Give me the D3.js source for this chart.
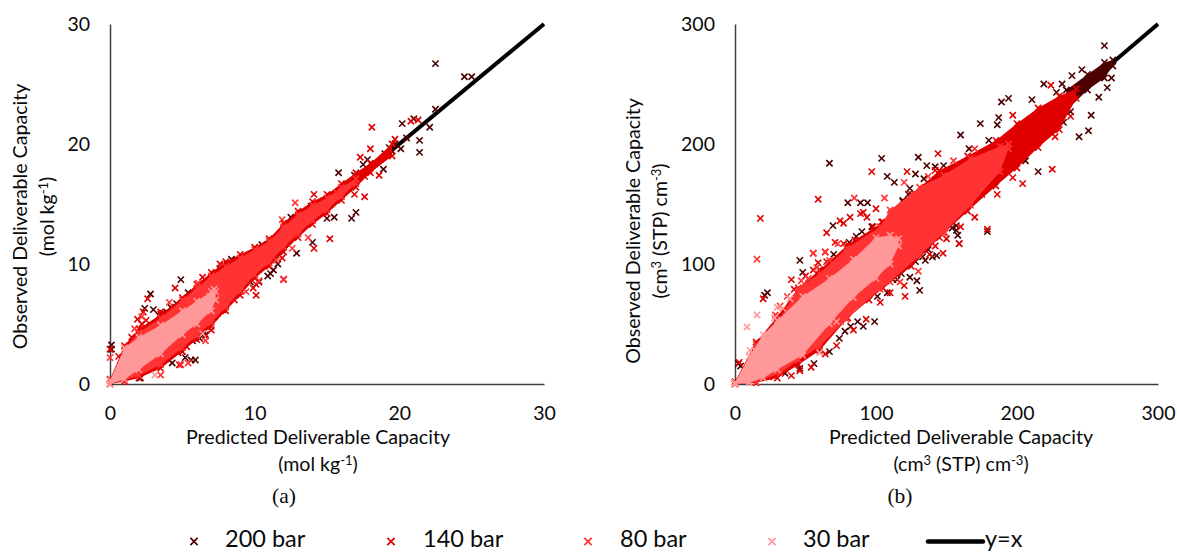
<!DOCTYPE html>
<html>
<head>
<meta charset="utf-8">
<script src="https://cdnjs.cloudflare.com/ajax/libs/d3/7.8.5/d3.min.js"></script>
<style>
  html, body { margin: 0; background: #fff; }
  text { font-family: Lato, "Open Sans", sans-serif; fill: #0a0a0a; }
</style>
</head>
<body>
<div id="wrapper"></div>
<script>
// values. the clouds are far too dense to read point by point,
// so the merged core of each series is kept as an outline: [x, low, high]
const ticksA = [0, 10, 20, 30];
const ticksB = [0, 100, 200, 300];
const seriesNames = ["200 bar", "140 bar", "80 bar", "30 bar"];
const seriesColors = ["#4d0000", "#e00000", "#ff3333", "#ff9999"];

const coreA140 = [[0,0,0.4],[1,0.2,3.2],[2,0.5,4.6],[3.5,1.3,5.8],[5,2.7,7.2],[6,3.7,8.3],[7,4.8,9.3],[8,6.1,10.2],[9,7.4,10.8],[10,8.8,11.4],[11,9.8,12.1],[12,11,13.4],[13,12.2,14.4],[14,13.3,15.2],[15,14.2,15.8],[16,15.3,16.7],[17,16.4,17.6],[18,17.6,18.4],[19.5,19,20]];
const coreA80 = [[0,0,0.3],[1,0.3,3],[2,0.7,4.3],[3.5,1.6,5.5],[5,3,7],[6,4,8],[7,5.1,9],[8,6.4,9.8],[9,7.7,10.5],[10,9.1,11.2],[11,10.1,11.9],[12,11.4,13.1],[13,12.5,14.1],[14,13.6,14.9],[15,14.5,15.5],[16,15.6,16.4],[17,16.7,17.1]];
const coreA30 = [[0,0,0.3],[1,0.4,3],[2,1.2,3.9],[3.5,2.5,4.9],[5,4.1,6.1],[6,5,6.9],[7,6.1,7.7],[7.3,7,7.7]];

const coreB140 = [[0,0,2],[15,1,35],[30,5,56],[45,16,80],[60,28,95],[80,55,116],[105,80,135],[125,98,158],[145,122,178],[165,144,190],[185,165,203],[200,180,217],[215,197,230],[230,212,240],[242,238,246]];
const coreB80 = [[0,0,1.5],[15,1.5,33],[32,9,55],[45,20,80],[60,31,92],[79,54,113],[103,79,131],[110,85,145],[131,107,164],[148,126,174],[167,149,188],[188,177,198],[194,196,200]];
const coreB30 = [[0,0,1],[10,1,23],[20,5,41],[30,12,53],[48,24,73],[67,50,88],[84,72,104],[100,88,122],[110,100,124],[116,115,121]];
const coreB200 = [[235,228,245],[250,245,258],[262,255,268],[268,265,270]];

const pointsA200 = [[22.5,26.7],[24.5,25.6],[25,25.6],[22.5,22.9],[20.2,21.7],[21,22.1],[22.1,21.4],[21.4,20.3],[21.4,19.3],[20.1,19.6],[20.5,20.5],[15.8,17.6],[17,14.3],[16.7,13.8],[18.9,17.9],[16.9,17.4],[17.8,18.7],[17.5,18.3],[19.3,19.7],[19,19.2],[19.7,20],[19.5,19.4],[14.9,14.8],[15.5,13.9],[15,13.8],[13.1,14.1],[12.5,13.9],[13.9,14.8],[12.1,13.3],[12.9,10.9],[14,11.8],[12.3,12.6],[4.9,8.7],[2.8,7.5],[0.1,3.25],[0.1,2.9],[8.4,10.4],[5.9,2],[5.6,2],[4.3,1.75],[2.1,0.5],[3,6.2],[2.4,6.3],[5.4,7.6],[6.4,4.5],[6.2,3.8],[5,2.7],[11.3,9.5],[10.9,9],[9.7,8.5],[10.5,11.6],[7.8,6.2],[8.1,10],[3.7,5.9],[4.2,6.4],[4.6,6.7],[7.6,9.6],[7.9,9.9],[8.8,10.3],[6.7,4.8],[5.7,3.6],[5.2,2.2],[4,2.1],[8.4,9.9],[8.7,9.9],[3.4,5.7],[3.9,6],[7.2,5.6],[6.6,4.1],[10.3,8.5],[11.6,10],[11.1,9.2]];
const pointsA140 = [[18.1,21.4],[18,19.6],[17.3,18.9],[18.6,17.4],[17.6,15.6],[16.9,15.8],[15.2,12.1],[14.1,11.3],[20.8,21.9],[21.3,22],[19.7,20.4],[14.1,15.8],[17.6,17.3],[17.9,17.8],[11.9,10.5],[12,8.7],[4.5,8],[2.6,7.1],[0,2.9],[0.6,2.3],[2.3,6],[2.5,5.3],[2.2,5],[1.5,3.9],[4.8,1.6],[10.1,7.4],[10.1,8.3],[9.9,8],[3.5,6],[1.9,5.4],[6.6,4],[3.4,1.6],[7.6,10],[6.4,8.9],[4.7,2.6],[5.3,3.1],[8.6,7],[7,4.5]];
const pointsA80 = [[12.8,15.1],[4.1,6.8],[0,2.2],[12,8.75],[11.5,10.3],[4.9,1.6],[5.4,1.75],[3.5,0.75],[2.2,5.6],[1.7,4.6],[13.7,12.2],[12.6,11.3],[11.9,13.7],[6.1,8.4],[6.6,3.6],[9.4,7.7],[10.3,8.6],[15.7,15.9]];
const pointsA30 = [[3.1,0.75],[6.4,4.2],[7.2,7.9],[6.9,7.3]];

const pointsB200 = [[67,184],[104,188],[130,189],[108,173],[113,168],[128,175],[89,151],[94,151],[80,151],[69.5,132],[86,123],[90,127],[124,163],[119,153],[158,124],[129,86],[131,78],[135,103],[140,106],[160,207.5],[174,217],[186,216],[187,222],[189,235],[194,238],[210.6,237],[219,250],[232,250],[239,257],[246,262],[262,282],[252.6,224],[250.7,211],[244,206],[258,239],[264,247],[267,255],[215,177],[179,127],[159,117],[2.4,17],[4,15],[23,76],[21,74],[46,103],[48,93],[56,17],[67,27],[99,52],[35.5,9],[46,13],[91,48],[87,52],[74,38],[78,44],[112,87],[123,100],[118,92],[150,143],[157,132],[145,131],[153,138],[206,186],[208,200],[225,212],[238,227],[205,216],[228,243],[199,207],[180,203],[166,196],[60,95],[70,108],[120,140],[134,171],[136,182],[82,48],[133,106],[128,102],[137,112],[124,89],[115,87],[108,76],[101,73],[157,128],[154,130],[143,107],[90,116],[86,111],[81,118],[97,131],[119,152],[123,158],[142,181],[148,182],[214,207],[219,227],[233,218],[200,192]];
const pointsB140 = [[18,138],[97,177],[122,177],[59,154],[142,178],[144,192],[65,126],[74.5,136],[81.6,139],[120.6,73],[159,117],[147.5,109],[225,179],[204,167],[224,249],[197,224],[179,129],[227,206],[238,223],[20,71],[40,87],[55.5,109],[64,110],[24,6],[46,11],[3,18],[77,134],[91,143],[100,146],[85,120],[175,158],[160,131],[202,189],[112,100],[95,70],[89,142],[93.6,139],[77,117],[86.5,117],[71,118],[80,111],[98,131],[104,135],[111,142],[65,102],[59,101],[55.5,95],[50,90],[42,79],[120,82],[110,76],[103,68],[93,54],[84,45],[72,32],[64,25],[54,14],[40,7],[138,108],[150,121],[142,115],[170,139],[186,158],[197,172]];
const pointsB80 = [[15.6,104],[106,155],[55.5,109],[64,110],[84.6,155],[28.6,57.5],[32,65],[37,73],[47,86],[130,94],[117,85],[149,126],[162,147],[73,117],[67,103],[52,88],[58,97],[75,52],[88,68],[97,77],[108,87],[120,168],[137,173],[155,186],[170,196]];
const pointsB30 = [[15.6,57.5],[8.5,47.5],[10.6,28],[14,28],[30,64],[34,63],[28,55],[39,71],[60,26],[72,52]];

const width = 1177, height = 552;
const svg = d3.select("#wrapper").append("svg")
    .attr("width", width)
    .attr("height", height)
    .style("display", "block");

const symbolPath = d3.symbol(d3.symbolX, 27)();
const legendSymbolPath = d3.symbol(d3.symbolX, 36)();

function drawPanel(cfg) {
  const x = d3.scaleLinear().domain([0, cfg.ticks[3]]).range([cfg.left, cfg.right]);
  const y = d3.scaleLinear().domain([0, cfg.ticks[3]]).range([384, 24]);

  const xAxis = d3.axisBottom(x).tickValues(cfg.ticks).tickSize(0).tickPadding(22);
  const yAxis = d3.axisLeft(y).tickValues(cfg.ticks).tickSize(0).tickPadding(20);

  const gx = svg.append("g").attr("transform", "translate(0,384)").call(xAxis);
  const gy = svg.append("g").attr("transform", `translate(${cfg.left},0)`).call(yAxis);
  for (const g of [gx, gy]) {
    g.selectAll("text").style("font-size", "19.5px");
    g.select(".domain").attr("stroke", "#404040").attr("stroke-width", 1.5);
  }

  // y=x sits under the markers
  svg.append("path")
    .attr("d", d3.line().x(d => x(d)).y(d => y(d))([0, cfg.ticks[3]]))
    .attr("stroke", "#000")
    .attr("stroke-width", 4)
    .attr("fill", "none");

  const area = d3.area().x(d => x(d[0])).y0(d => y(d[1])).y1(d => y(d[2]));

  cfg.layers.forEach(layer => {
    const color = seriesColors[layer.series];
    const g = svg.append("g");
    if (layer.core) {
      g.append("path").attr("d", area(layer.core)).attr("fill", color);
      // outline rows get a marker too so the edge of the cloud is not a clean line
      const edge = layer.core.flatMap(d => [[d[0], d[1]], [d[0], d[2]]]);
      g.selectAll("path.edge")
        .data(edge)
        .enter()
        .append("path")
        .attr("class", "edge")
        .attr("d", symbolPath)
        .attr("transform", d => `translate(${x(d[0])},${y(d[1])})`)
        .attr("stroke", color)
        .attr("stroke-width", 1.6)
        .attr("fill", "none");
    }
    g.selectAll("path.pt")
      .data(layer.points)
      .enter()
      .append("path")
      .attr("class", "pt")
      .attr("d", symbolPath)
      .attr("transform", d => `translate(${x(d[0])},${y(d[1])})`)
      .attr("stroke", color)
      .attr("stroke-width", 1.6)
      .attr("fill", "none");
  });

  addTitle(cfg.xTitleX, 444, 0, "Predicted Deliverable Capacity", cfg.unit);
  addTitle(cfg.yTitleY, cfg.yTitleX, -90, "Observed Deliverable Capacity", cfg.unit);

  svg.append("text")
    .attr("x", cfg.tagX)
    .attr("y", 503)
    .attr("text-anchor", "middle")
    .style("font-family", "'Liberation Serif', serif")
    .style("font-size", "21.5px")
    .text(cfg.tag);
}

// two line axis title, second line has the unit with its superscripts
function addTitle(a, b, rotate, label, unit) {
  const g = svg.append("g")
    .attr("transform", rotate ? `translate(${b},${a}) rotate(${rotate})` : `translate(${a},${b})`)
    .attr("text-anchor", "middle")
    .style("font-size", "19.6px");
  g.append("text").text(label);
  const t = g.append("text").attr("y", 26.5);
  unit.forEach(part => {
    const s = t.append("tspan").text(part[0]);
    if (part[1]) s.attr("dy", -6).style("font-size", "13px");
    else if (part[2]) s.attr("dy", 6);
  });
}

drawPanel({
  ticks: ticksA, left: 110, right: 544, xTitleX: 318, yTitleY: 216.5, yTitleX: 27,
  tag: "(a)", tagX: 284,
  unit: [["(mol kg"], ["-1", true], [")", false, true]],
  layers: [
    { series: 0, points: pointsA200 },
    { series: 1, points: pointsA140, core: coreA140 },
    { series: 2, points: pointsA80, core: coreA80 },
    { series: 3, points: pointsA30, core: coreA30 }
  ]
});

drawPanel({
  ticks: ticksB, left: 735, right: 1158, xTitleX: 961, yTitleY: 231, yTitleX: 640,
  tag: "(b)", tagX: 900,
  unit: [["(cm"], ["3", true], [" (STP) cm", false, true], ["-3", true], [")", false, true]],
  layers: [
    { series: 0, points: pointsB200, core: coreB200 },
    { series: 1, points: pointsB140, core: coreB140 },
    { series: 2, points: pointsB80, core: coreB80 },
    { series: 3, points: pointsB30, core: coreB30 }
  ]
});

// legend
const legendMarkerX = [194, 391, 588, 772];
const legendTextX = [225, 423, 620, 803];
seriesNames.forEach((name, i) => {
  svg.append("path")
    .attr("d", legendSymbolPath)
    .attr("transform", `translate(${legendMarkerX[i]},541.5)`)
    .attr("stroke", seriesColors[i])
    .attr("stroke-width", 1.7)
    .attr("fill", "none");
  svg.append("text")
    .attr("x", legendTextX[i])
    .attr("y", 546.5)
    .style("font-size", "23.5px")
    .text(name);
});
svg.append("line")
  .attr("x1", 928).attr("x2", 983)
  .attr("y1", 541.5).attr("y2", 541.5)
  .attr("stroke", "#000")
  .attr("stroke-width", 4.5)
  .attr("stroke-linecap", "round");
svg.append("text")
  .attr("x", 985)
  .attr("y", 546.5)
  .style("font-size", "23.5px")
  .text("y=x");
</script>
</body>
</html>
